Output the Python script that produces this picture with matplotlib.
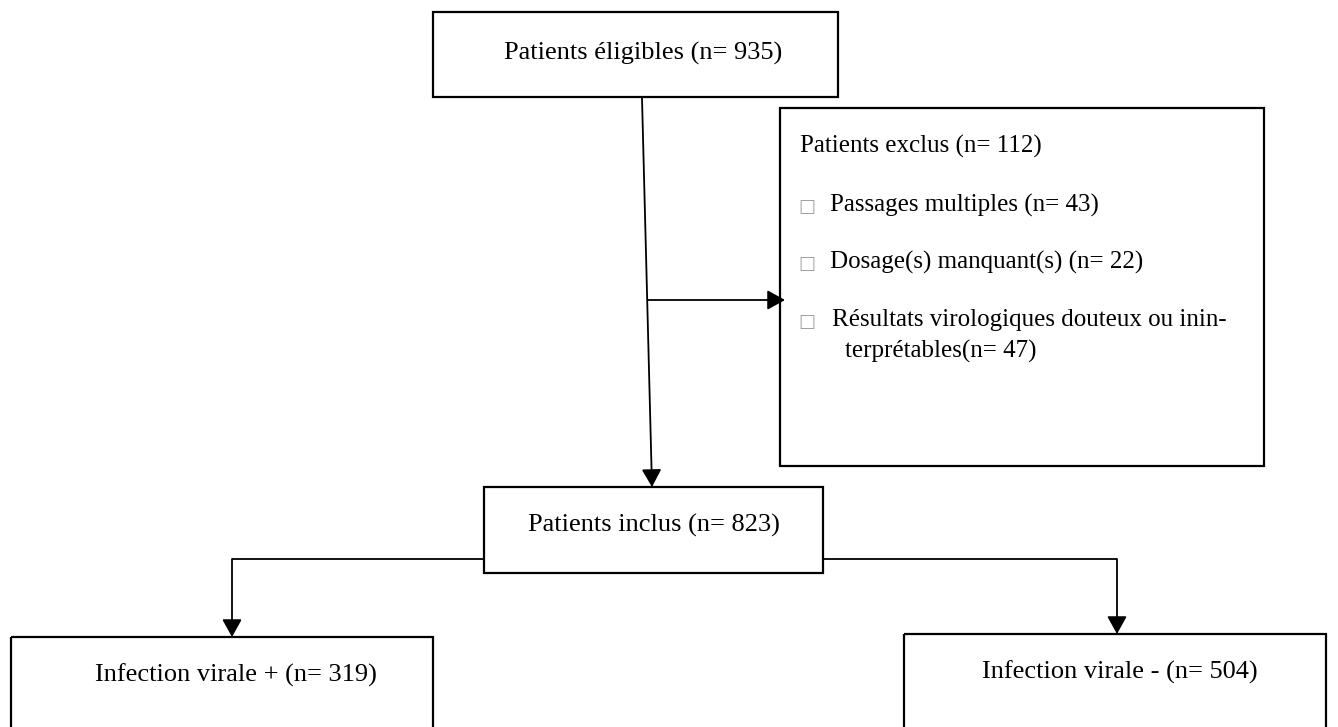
import matplotlib
matplotlib.use("Agg")
import matplotlib.pyplot as plt
from matplotlib.patches import Rectangle, FancyArrowPatch

# ---- data ----
eligible_label = "Patients éligibles"
eligible_n = 935
excluded_label = "Patients exclus"
excluded_n = 112
excl_reasons = ["Passages multiples", "Dosage(s) manquant(s)",
                "Résultats virologiques douteux ou inin-\nterprétables"]
excl_counts = [43, 22, 47]
included_label = "Patients inclus"
included_n = 823
group_labels = ["Infection virale +", "Infection virale -"]
group_counts = [319, 504]

W, H = 1338, 727
fig = plt.figure(figsize=(W / 100, H / 100), dpi=100)
ax = fig.add_axes([0, 0, 1, 1])
ax.set_xlim(0, W)
ax.set_ylim(H, 0)
ax.axis("off")

FONT = "Liberation Serif"
FS = 19
FSX = 18
BLW = 1.6

def box(x0, y0, x1, y1):
    ax.add_patch(Rectangle((x0, y0), x1 - x0, y1 - y0, fill=False,
                           edgecolor="black", lw=BLW, clip_on=False))

def arrow(p0, p1):
    ax.add_patch(FancyArrowPatch(p0, p1, arrowstyle="-|>,head_length=0.9,head_width=0.5",
                                 mutation_scale=12, color="black", lw=1.3,
                                 shrinkA=0, shrinkB=0))

def line(xs, ys):
    ax.plot(xs, ys, color="black", lw=1.3, solid_capstyle="butt")

# top box
box(433, 12, 838, 97)
ax.text(643, 53, f"{eligible_label} (n= {eligible_n})", ha="center", va="center",
        fontsize=FS, family=FONT)

# excluded box
box(780, 108, 1264, 466)
ax.text(800, 146, f"{excluded_label} (n= {excluded_n})", ha="left", va="center",
        fontsize=FSX, family=FONT)
ys = [205, 262, 320]
for i, (lab, c) in enumerate(zip(excl_reasons, excl_counts)):
    ax.text(807, ys[i] + 2, "\u25A1", ha="center", va="center", fontsize=13,
            family="DejaVu Sans", color="#a0a0a0")
    if "\n" in lab:
        a, b = lab.split("\n")
        ax.text(832, ys[i], a, ha="left", va="center", fontsize=FSX, family=FONT)
        ax.text(845, ys[i] + 31, f"{b}(n= {c})", ha="left", va="center",
                fontsize=FSX, family=FONT)
    else:
        ax.text(830, ys[i], f"{lab} (n= {c})", ha="left", va="center",
                fontsize=FSX, family=FONT)

# main vertical arrow (slightly slanted)
arrow((642, 98), (652, 487))
# side arrow to exclusion box
arrow((648, 300), (785, 300))

# included box
box(484, 487, 823, 573)
ax.text(654, 525, f"{included_label} (n= {included_n})", ha="center", va="center",
        fontsize=FS, family=FONT)

# branches
line([484, 232], [559, 559])
arrow((232, 559), (232, 637))
line([823, 1117], [559, 559])
arrow((1117, 559), (1117, 634))

# bottom boxes (extend past bottom edge)
box(11, 637, 433, 740)
ax.text(236, 675, f"{group_labels[0]} (n= {group_counts[0]})", ha="center", va="center",
        fontsize=FS, family=FONT)
box(904, 634, 1326, 740)
ax.text(1120, 672, f"{group_labels[1]} (n= {group_counts[1]})", ha="center", va="center",
        fontsize=FS, family=FONT)

fig.savefig("out.png", dpi=100, facecolor="white")
